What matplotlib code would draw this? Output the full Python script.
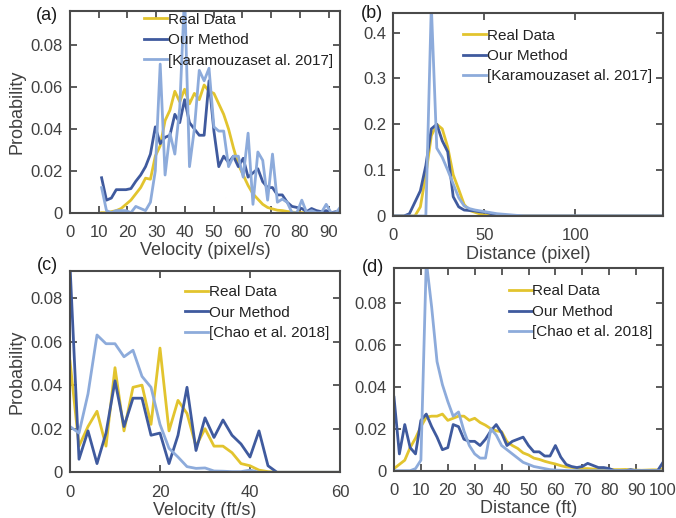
import numpy as np
import matplotlib.pyplot as plt
import matplotlib.ticker as ticker

plt.rcParams['font.family'] = ['Liberation Sans', 'DejaVu Sans']

# colours
cReal = '#E2C42E'
cOurs = '#3F5A9E'
cOther = '#8DABDB'
txtCol = '#404040'

# ---- (a) velocity, pixel/s ----
velA = np.arange(50) * 1.7 + 11.0
realA = [0.0, 0.0, 0.0005, 0.001, 0.002, 0.004, 0.006, 0.009, 0.012, 0.0165,
         0.016, 0.027, 0.032, 0.044, 0.049, 0.058, 0.053, 0.059, 0.052, 0.057,
         0.054, 0.061, 0.058, 0.057, 0.052, 0.047, 0.040, 0.031, 0.023, 0.018,
         0.013, 0.009, 0.0065, 0.004, 0.0025, 0.0018, 0.0012, 0.001, 0.0006, 0.0003,
         0.0, 0.0, 0.0, 0.0, 0.0, 0.0, 0.0, 0.0, 0.0, 0.0]
oursA = [0.0167, 0.006, 0.007, 0.011, 0.011, 0.011, 0.0115, 0.015, 0.018, 0.022,
         0.028, 0.041, 0.033, 0.036, 0.037, 0.047, 0.043, 0.054, 0.043, 0.040,
         0.037, 0.037, 0.063, 0.039, 0.022, 0.027, 0.024, 0.027, 0.022, 0.026,
         0.017, 0.019, 0.021, 0.0148, 0.012, 0.012, 0.0085, 0.0085, 0.005, 0.003,
         0.0025, 0.002, 0.0005, 0.002, 0.001, 0.0005, 0.001, 0.0, 0.0005, 0.0]
karaA = [0.012, 0.001, 0.0, 0.001, 0.001, 0.001, 0.0, 0.003, 0.002, 0.001,
         0.005, 0.020, 0.071, 0.018, 0.038, 0.028, 0.050, 0.105, 0.022, 0.040,
         0.068, 0.063, 0.069, 0.041, 0.039, 0.039, 0.022, 0.027, 0.027, 0.017,
         0.038, 0.004, 0.029, 0.025, 0.006, 0.028, 0.005, 0.0065, 0.005, 0.0,
         0.0, 0.006, 0.0, 0.001, 0.0, 0.0, 0.004, 0.0, 0.0, 0.003]

# ---- (b) distance, pixel ----
distB = np.arange(50) * 3.0
realB = [0, 0, 0, 0, 0, 0.02, 0.09, 0.175, 0.20, 0.19,
         0.15, 0.09, 0.058, 0.025, 0.012, 0.008, 0.004, 0.002, 0.001, 0,
         0, 0, 0, 0, 0, 0, 0, 0, 0, 0,
         0, 0, 0, 0, 0, 0, 0, 0, 0, 0,
         0, 0, 0, 0, 0, 0, 0, 0, 0, 0]
oursB = [0, 0, 0, 0.005, 0.03, 0.055, 0.11, 0.19, 0.20, 0.164,
         0.14, 0.042, 0.02, 0.013, 0.012, 0.011, 0.009, 0.008, 0.005, 0.003,
         0.002, 0.001, 0, 0, 0, 0, 0, 0, 0, 0,
         0, 0, 0, 0, 0, 0, 0, 0, 0, 0,
         0, 0, 0, 0, 0, 0, 0, 0, 0, 0]
karaB = [0, 0, 0, 0, 0, 0, 0, 0.46, 0.148, 0.128,
         0.10, 0.07, 0.04, 0.022, 0.016, 0.013, 0.011, 0.009, 0.007, 0.005,
         0.004, 0.003, 0.002, 0.001, 0, 0, 0, 0, 0, 0,
         0, 0, 0, 0, 0, 0, 0, 0, 0, 0,
         0, 0, 0, 0, 0, 0, 0, 0, 0, 0]

# ---- (c) velocity, ft/s ----
velC = np.arange(31) * 2.0
realC = [0.051, 0.012, 0.021, 0.028, 0.012, 0.048, 0.019, 0.039, 0.040, 0.022,
         0.057, 0.019, 0.033, 0.027, 0.012, 0.020, 0.012, 0.012, 0.009, 0.004,
         0.003, 0.001, 0.0003, 0, 0, 0, 0, 0, 0, 0, 0]
oursC = [0.095, 0.006, 0.019, 0.004, 0.018, 0.042, 0.021, 0.034, 0.034, 0.017,
         0.018, 0.004, 0.017, 0.039, 0.010, 0.025, 0.016, 0.024, 0.017, 0.013,
         0.007, 0.019, 0.003, 0.0, 0, 0, 0, 0, 0, 0, 0]
chaoC = [0.021, 0.018, 0.036, 0.063, 0.059, 0.059, 0.053, 0.056, 0.044, 0.039,
         0.022, 0.011, 0.007, 0.0026, 0.0018, 0.002, 0.0006, 0.0005, 0.0003, 0.0003,
         0.001, 0.0, 0, 0, 0, 0, 0, 0, 0, 0, 0]

# ---- (d) distance, ft ----
distD = np.arange(51) * 2.0
realD = [0.001, 0.003, 0.005, 0.011, 0.0155, 0.021, 0.0255, 0.026, 0.026, 0.027,
         0.024, 0.025, 0.026, 0.026, 0.024, 0.025, 0.023, 0.0217, 0.020, 0.019,
         0.0186, 0.0138, 0.012, 0.0106, 0.0085, 0.0075, 0.006, 0.0054, 0.0045, 0.0038,
         0.0032, 0.0024, 0.0018, 0.0016, 0.0012, 0.001, 0.001, 0.0008, 0.0008, 0.0007,
         0.0006, 0.0005, 0.0005, 0.0006, 0.0004, 0.0003, 0.0002, 0.0003, 0.0004, 0.0004,
         0.001]
oursD = [0.035, 0.008, 0.022, 0.011, 0.008, 0.024, 0.027, 0.021, 0.016, 0.010,
         0.011, 0.022, 0.021, 0.015, 0.014, 0.014, 0.012, 0.015, 0.019, 0.022,
         0.018, 0.012, 0.014, 0.015, 0.016, 0.012, 0.009, 0.009, 0.007, 0.007,
         0.012, 0.0065, 0.003, 0.002, 0.0015, 0.002, 0.0035, 0.0025, 0.0015, 0.0015,
         0.001, 0.0, 0.0, 0.0, 0.0005, 0.0, 0.0, 0.0, 0.0, 0.0,
         0.004]
chaoD = [0.0, 0.0, 0.0, 0.0, 0.001, 0.005, 0.10, 0.078, 0.052, 0.041,
         0.033, 0.026, 0.028, 0.019, 0.012, 0.008, 0.006, 0.006, 0.020, 0.017,
         0.012, 0.010, 0.008, 0.006, 0.004, 0.003, 0.002, 0.0015, 0.001, 0.0005,
         0.0003, 0.0002, 0.0001, 0, 0, 0, 0, 0, 0, 0,
         0, 0, 0, 0, 0, 0, 0, 0, 0, 0,
         0]

W, H = 676, 518
fig = plt.figure(figsize=(W / 100, H / 100), dpi=100)


def makeAxes(l, r, t, b):
    return fig.add_axes([l / W, 1 - b / H, (r - l) / W, (b - t) / H])


def styleAxes(ax, xlim, ylim, xticks, yticks, xlabel, ylabel=None):
    ax.set_xlim(xlim)
    ax.set_ylim(ylim)
    ax.set_xticks(xticks)
    ax.set_yticks(yticks)
    ax.yaxis.set_major_formatter(ticker.FuncFormatter(lambda v, p: '%g' % round(v, 4)))
    ax.tick_params(direction='in', length=5, width=1.2, top=True, right=True,
                   labelsize=12, colors=txtCol, pad=5)
    ax.tick_params(axis='x', pad=9)
    for s in ax.spines.values():
        s.set_color('#4a4a4a')
        s.set_linewidth(1.5)
    ax.set_xlabel(xlabel, fontsize=13, color=txtCol, labelpad=1.5)
    if ylabel:
        ax.set_ylabel(ylabel, fontsize=13, color=txtCol, labelpad=4)


def drawLines(ax, x, real, ours, other, otherName, anchor):
    ax.plot(x, real, color=cReal, lw=2.0, label='Real Data')
    ax.plot(x, ours, color=cOurs, lw=2.0, label='Our Method')
    ax.plot(x, other, color=cOther, lw=2.0, label=otherName)
    ax.legend(loc='upper left', bbox_to_anchor=anchor, frameon=False, fontsize=11,
              handlelength=1.5, handletextpad=0.05, borderpad=0, borderaxespad=0,
              labelspacing=0.42, labelcolor='#222222')


axA = makeAxes(70, 340, 10.7, 212.7)
drawLines(axA, velA, realA, oursA, karaA, '[Karamouzaset al. 2017]', (0.275, 0.99))
styleAxes(axA, (0, 94), (0, 0.0965), np.arange(0, 91, 10), np.arange(0, 0.081, 0.02),
          'Velocity (pixel/s)', 'Probability')

axB = makeAxes(393, 663, 13.3, 216)
drawLines(axB, distB, realB, oursB, karaB, '[Karamouzaset al. 2017]', (0.26, 0.925))
styleAxes(axB, (0, 148), (0, 0.442), [0, 50, 100], np.arange(0, 0.41, 0.1),
          'Distance (pixel)')

axC = makeAxes(70, 340, 270.7, 472.3)
drawLines(axC, velC, realC, oursC, chaoC, '[Chao et al. 2018]', (0.426, 0.927))
styleAxes(axC, (0, 60), (0, 0.0925), [0, 20, 40, 60], np.arange(0, 0.081, 0.02),
          'Velocity (ft/s)', 'Probability')

axD = makeAxes(394, 663, 268.3, 470.7)
drawLines(axD, distD, realD, oursD, chaoD, '[Chao et al. 2018]', (0.426, 0.92))
styleAxes(axD, (0, 100), (0, 0.0965), np.arange(0, 101, 10), np.arange(0, 0.081, 0.02),
          'Distance (ft)')

for lab, px, py in [('(a)', 47, 16), ('(b)', 372, 14), ('(c)', 47, 266), ('(d)', 373, 267)]:
    fig.text(px / W, 1 - py / H, lab, fontsize=13, color='#1a1a1a', ha='center', va='center')

fig.savefig('out.png', dpi=100)
